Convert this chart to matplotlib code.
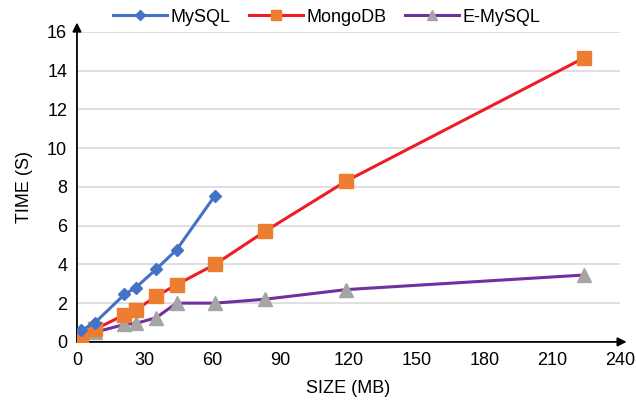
import matplotlib
matplotlib.use("Agg")
import matplotlib.pyplot as plt

plt.rcParams["font.family"] = ["Liberation Sans", "DejaVu Sans"]

# data
size_mb = [2, 8, 21, 26, 35, 44, 61, 83, 119, 224]
mysql = [0.6, 1.0, 2.45, 2.8, 3.75, 4.75, 7.55]
mongodb = [0.3, 0.65, 1.4, 1.65, 2.35, 2.95, 4.0, 5.7, 8.3, 14.65]
emysql = [0.05, 0.5, 0.9, 0.95, 1.25, 2.0, 2.0, 2.2, 2.7, 3.45]

xticks = list(range(0, 241, 30))
yticks = list(range(0, 17, 2))

fig = plt.figure(figsize=(6.36, 4.08), dpi=100)
ax = fig.add_axes([0.121, 0.162, 0.854, 0.76])

ax.plot(size_mb[:len(mysql)], mysql, "-D", color="#4472C4", lw=2.2, ms=6.5,
        label="MySQL", zorder=5)
ax.plot(size_mb, mongodb, "-", color="#EE1C25", lw=2.2, marker="s", ms=10,
        mfc="#ED7D31", mec="#ED7D31", label="MongoDB", zorder=4)
ax.plot(size_mb, emysql, "-", color="#7030A0", lw=2.2, marker="^", ms=10,
        mfc="#A5A5A5", mec="#A5A5A5", label="E-MySQL", zorder=3)

ax.set_xlim(0, 240)
ax.set_ylim(0, 16)
ax.set_xticks(xticks)
ax.set_yticks(yticks)
ax.tick_params(length=0, labelsize=13, pad=7)
ax.grid(axis="y", color="#d9d9d9", lw=1.2)
ax.set_axisbelow(True)
for s in ax.spines.values():
    s.set_visible(False)

# axes drawn as arrows
ax.annotate("", xy=(1.012, 0), xytext=(0, 0), xycoords="axes fraction",
            arrowprops=dict(arrowstyle="-|>", color="k", lw=1.3, mutation_scale=13,
                            shrinkA=0, shrinkB=0))
ax.annotate("", xy=(0, 1.03), xytext=(0, 0), xycoords="axes fraction",
            arrowprops=dict(arrowstyle="-|>", color="k", lw=1.3, mutation_scale=13,
                            shrinkA=0, shrinkB=0))

ax.set_xlabel("SIZE (MB)", fontsize=13, labelpad=8)
ax.set_ylabel("TIME (S)", fontsize=13, labelpad=10)

ax.legend(loc="lower center", bbox_to_anchor=(0.46, 1.02), ncol=3, frameon=False,
          fontsize=13, handlelength=3.0, columnspacing=1.0, handletextpad=0.2,
          borderaxespad=0, borderpad=0, markerscale=0.75)

fig.savefig("out.png", dpi=100)
